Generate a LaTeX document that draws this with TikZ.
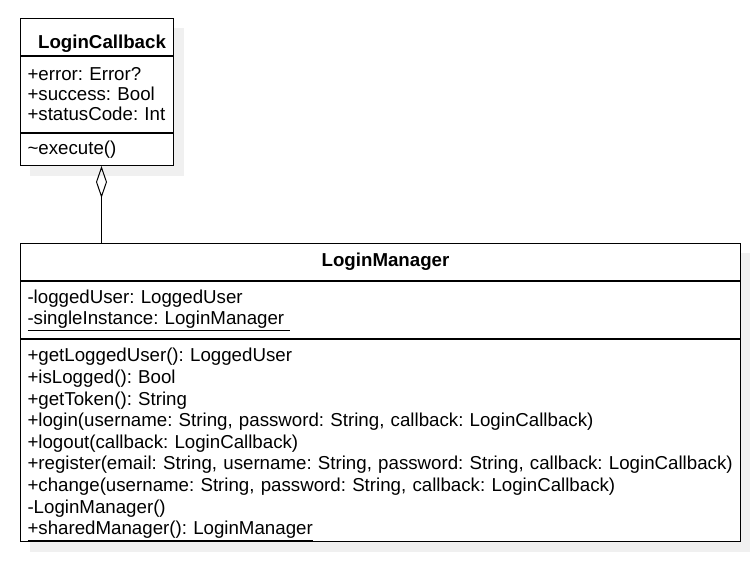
\documentclass[tikz,border=0pt]{standalone}
\usepackage{fontspec}
\setmainfont{Liberation Sans}
\usetikzlibrary{arrows.meta,positioning,backgrounds}
\definecolor{shadowgray}{RGB}{240,240,240}
\tikzset{
  umlpart/.style={
    draw=black, fill=white, line width=1pt, rectangle,
    inner xsep=7pt, inner ysep=0pt, align=left,
    font=\frenchspacing\fontsize{18.7}{21.6}\selectfont,
  },
  umltitle/.style={umlpart, align=center, font=\bfseries\fontsize{18.7}{21.6}\selectfont},
  aggregation/.style={{Diamond[open,length=32pt,width=11pt]}-, line width=1pt},
}
\newcommand{\classname}[1]{\hspace*{10pt}#1}
\newcommand{\static}[1]{\underline{#1}}
\newcommand{\shadowbox}[2]{%
  \fill[shadowgray] ([shift={(10,10)}]#1.north west) rectangle ([shift={(10,10)}]#2.south east);}

\begin{document}
\begin{tikzpicture}[x=1pt,y=-1pt]
  \useasboundingbox (0,0) rectangle (750,560);
  % LoginCallback
  \node[umltitle, anchor=north west, text width=139pt, minimum height=37pt,
        text height=23pt, text depth=0pt] (cbtitle) at (20,18)
    {\classname{LoginCallback}};
  \node[umlpart, text width=139pt, minimum height=76pt, below=0pt of cbtitle] (cbattr)
    {+error: Error?\\[-1.6pt] +success: Bool\\[-1.6pt] +statusCode: Int};
  \node[umlpart, text width=139pt, minimum height=32pt, below=0pt of cbattr] (cbmeth)
    {\raisebox{-3pt}{\textasciitilde execute()}};
  % LoginManager
  \node[umltitle, anchor=north west, text width=706pt, minimum height=37pt] (lmtitle) at (20,243)
    {\classname{LoginManager}};
  \node[umlpart, text width=706pt, minimum height=57pt, below=0pt of lmtitle] (lmattr)
    {-loggedUser: LoggedUser\\ \static{-singleInstance: LoginManager\ }};
  \node[umlpart, text width=706pt, minimum height=202pt, below=0pt of lmattr] (lmmeth)
    {\rule{0pt}{21.6pt}+getLoggedUser(): LoggedUser\\
     +isLogged(): Bool\\
     +getToken(): String\\
     +login(username: String, password: String, callback: LoginCallback)\\
     +logout(callback: LoginCallback)\\
     +register(email: String, username: String, password: String, callback: LoginCallback)\\
     +change(username: String, password: String, callback: LoginCallback)\\
     -LoginManager()\\
     \static{+sharedManager(): LoginManager}};
  \begin{scope}[on background layer]
    \shadowbox{cbtitle}{cbmeth}
    \shadowbox{lmtitle}{lmmeth}
  \end{scope}
  \draw[aggregation] ([xshift=4.5pt]cbmeth.south) -- ([xshift=4.5pt]cbmeth.south |- lmtitle.north);
\end{tikzpicture}
\end{document}
